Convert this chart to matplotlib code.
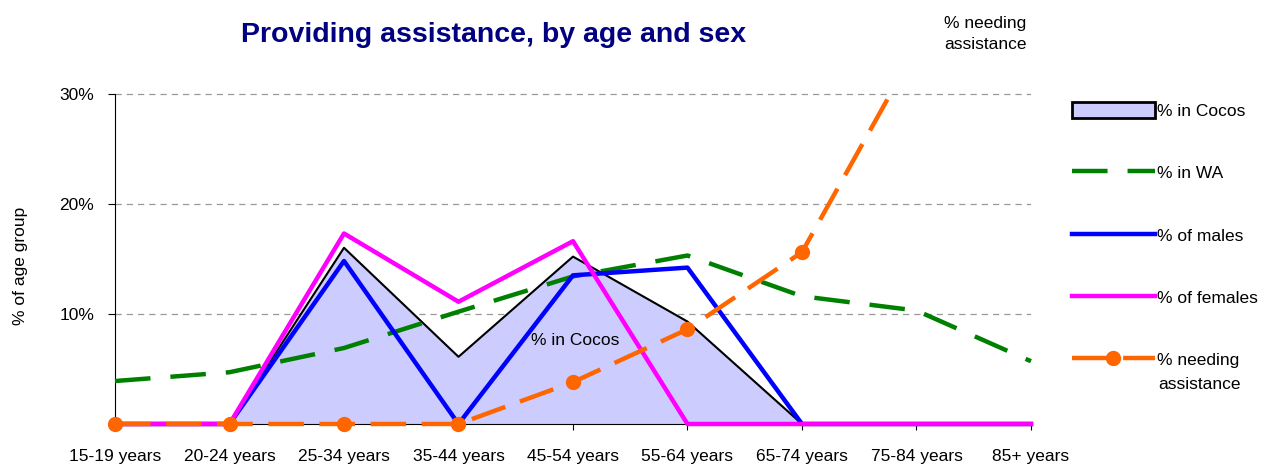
import matplotlib.pyplot as plt
import numpy as np
from matplotlib.patches import Patch, Rectangle
from matplotlib.lines import Line2D

plt.rcParams['font.family'] = ['Liberation Sans', 'DejaVu Sans']

ages = ['15-19 years', '20-24 years', '25-34 years', '35-44 years', '45-54 years',
        '55-64 years', '65-74 years', '75-84 years', '85+ years']
cocos = [0, 0, 16.0, 6.1, 15.2, 9.3, 0, 0, 0]
wa = [3.9, 4.7, 6.9, 10.2, 13.4, 15.3, 11.6, 10.3, 5.7]
males = [0, 0, 14.8, 0, 13.5, 14.2, 0, 0, 0]
females = [0, 0, 17.3, 11.1, 16.6, 0, 0, 0, 0]
needing = [0, 0, 0, 0, 3.8, 8.6, 15.6, 34.2, 60.0]

x = np.arange(len(ages))

fig = plt.figure(figsize=(12.75, 4.67), dpi=100)
ax = fig.add_axes([0.0902, 0.0921, 0.7184, 0.7216])

# clip region: lines at 0 show fully, but are cut at the top of the plot
clip = Rectangle((-0.02, -0.1), 1.04, 1.1, transform=ax.transAxes,
                 fill=False, visible=False)
ax.add_patch(clip)

ax.fill_between(x, cocos, 0, color='#ccccff', zorder=1)
lines = []
lines += ax.plot(x, cocos, color='black', lw=1.5, zorder=2)
lines += ax.plot(x, wa, color='#008000', lw=3.2, dashes=(8, 4.5), zorder=3)
lines += ax.plot(x, males, color='#0000ff', lw=3.2, zorder=4)
lines += ax.plot(x, females, color='#ff00ff', lw=3.2, zorder=5)
lines += ax.plot(x, needing, color='#ff6600', lw=3.2, dashes=(8, 3.5), marker='o',
                 markersize=10, zorder=6)
for ln in lines:
    ln.set_clip_path(clip)

ax.set_xlim(0, 8)
ax.set_ylim(0, 30.6)
ax.set_xticks(x)
ax.set_xticklabels(ages, fontsize=12.5)
ax.set_yticks([10, 20, 30])
ax.set_yticklabels(['10%', '20%', '30%'], fontsize=12.5)
ax.tick_params(axis='x', length=4, pad=14)
ax.tick_params(axis='y', length=5, pad=10)
ax.yaxis.grid(True, color='#999999', ls=(0, (5, 4)), lw=0.9)
ax.set_axisbelow(True)
for s in ['top', 'right']:
    ax.spines[s].set_visible(False)
ax.spines['left'].set_bounds(0, 30)

ax.text(4.02, 7.6, '% in Cocos', fontsize=12.5, ha='center', va='center', zorder=7)
ax.text(7.6, 35.4, '% needing\nassistance', fontsize=12.5, ha='center', va='center',
        linespacing=1.45)

fig.text(0.387, 0.925, 'Providing assistance, by age and sex', fontsize=20.5,
         fontweight='bold', color='#000080', ha='center', va='center')
fig.text(0.016, 0.43, '% of age group', fontsize=12.5, rotation=90,
         ha='center', va='center')

handles = [
    Patch(facecolor='#ccccff', edgecolor='black', lw=2),
    Line2D([], [], color='#008000', lw=3.2, dashes=(8, 4.5)),
    Line2D([], [], color='#0000ff', lw=3.2),
    Line2D([], [], color='#ff00ff', lw=3.2),
    Line2D([], [], color='#ff6600', lw=3.2, dashes=(8, 3.5), marker='o', markersize=10),
]
labels = ['% in Cocos', '% in WA', '% of males', '% of females', '% needing']
fig.legend(handles, labels, loc='upper left', bbox_to_anchor=(0.8355, 0.797),
           frameon=False, fontsize=12.5, handlelength=4.75, handleheight=1.1,
           handletextpad=0.15, labelspacing=2.6, borderaxespad=0)
fig.text(0.9082, 0.176, 'assistance', fontsize=12.5, ha='left', va='center')

fig.savefig('out.png', dpi=100)
